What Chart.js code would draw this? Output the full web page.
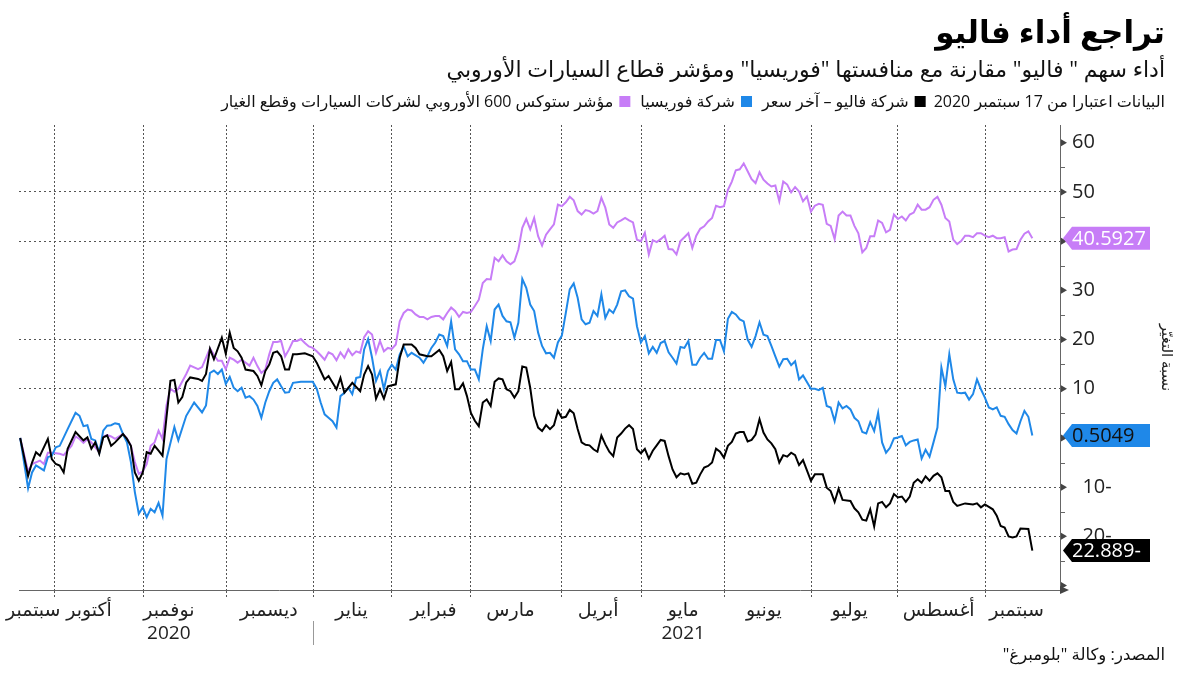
<!DOCTYPE html>
<html lang="ar">
<head>
<meta charset="utf-8">
<script src="https://cdn.jsdelivr.net/npm/chart.js@4.4.0/dist/chart.umd.min.js"></script>
<style>
  html, body { margin: 0; padding: 0; background: #fff; }
</style>
</head>
<body>
<canvas id="myChart" width="1200" height="675"></canvas>
<script>
// [trading day since 17 Sep 2020, % change]
var valeo = [[0,0],[2,-7.7],[3,-5],[4,-2.9],[5,-3.6],[7,-0.2],[8,-4.3],[9,-5.3],[10,-5.6],[11,-7],
  [12,-2.2],[14,1.2],[16,-0.5],[17,0.1],[18,-2.2],[19,-0.9],[20,-3.2],[21,0.1],[22,0.5],[23,-1.6],
  [24,-0.9],[26,0.8],[27,-0.2],[28,-1.6],[29,-7],[30,-8.7],[31,-7],[32,-2.9],[33,-3.2],[34,-1.6],
  [35,-2.6],[36,-3.6],[37,4.2],[38,11.6],[39,11.8],[40,7.2],[41,8.3],[42,11.3],[43,12.3],[45,12],
  [46,11.6],[47,13],[48,18.1],[49,16],[51,20.4],[52,17.1],[53,21.4],[54,18.3],[55,17.6],[56,16.3],
  [57,13.9],[59,13.6],[60,12.6],[61,10.7],[62,13.6],[63,14.9],[64,17.3],[65,17.6],[66,16.6],[67,13.9],
  [68,13.9],[69,17],[70,17],[72,17.2],[74,16.6],[75,15.3],[76,13.6],[77,11.9],[78,12.6],[80,9.9],
  [81,12.2],[82,9.2],[83,10.2],[84,11.2],[86,9.5],[87,12.9],[88,14.6],[89,12.9],[90,8],[91,9.9],
  [92,8],[93,10.5],[95,10.9],[96,16.3],[97,19],[99,19],[100,18.3],[101,17],[103,16.6],[104,16.6],
  [106,17.9],[107,16.6],[108,13.6],[109,15.4],[110,9.9],[111,9.9],[112,11.1],[113,8.5],[114,5.1],[115,3.5],
  [116,2.4],[117,7.2],[118,7.8],[119,6.5],[120,11.4],[121,12.1],[122,11.9],[123,9.9],[124,9.5],[125,8.2],
  [126,9.5],[127,14.5],[128,14.3],[129,10.2],[130,4.5],[131,2.1],[132,1.4],[133,2.6],[134,1.8],[135,2.6],
  [136,5.5],[137,4.1],[138,4.3],[139,5.7],[140,5],[141,1.8],[142,-0.9],[143,-1.4],[144,-1.5],[145,-2.3],
  [146,-2.8],[147,0.5],[148,-1.3],[149,-2.8],[150,-3.7],[151,0.1],[152,0.9],[153,1.9],[154,2.6],[155,1.8],
  [156,-2.3],[157,-3.1],[158,-2.2],[159,-4.2],[160,-2.6],[161,-1.5],[162,-0.4],[163,-0.6],[164,-3.7],[165,-6.4],
  [166,-8],[167,-7.2],[168,-7.4],[169,-7.2],[170,-9.3],[171,-9.1],[172,-7.4],[173,-6],[174,-5.7],[175,-5],
  [176,-2.2],[177,-2.8],[178,-4],[179,-1.6],[180,-0.8],[181,0.9],[182,1.2],[183,1.2],[184,-0.7],[185,-0.4],
  [186,0.7],[187,3.8],[188,1.1],[189,-0.3],[190,-1.1],[191,-2.3],[192,-5],[193,-3.5],[194,-3.8],[195,-3],
  [196,-3.5],[197,-5.5],[198,-4.5],[200,-8.7],[201,-7.4],[203,-7.4],[204,-10.1],[205,-10.8],[206,-13],[207,-10.3],
  [208,-12.6],[210,-12.8],[211,-14.3],[212,-15.1],[213,-16.6],[214,-16.8],[215,-14.5],[216,-18],[217,-13.3],[218,-13],
  [219,-14.1],[220,-13.3],[221,-11.4],[222,-12.1],[223,-11.9],[224,-13],[225,-11.9],[226,-9.1],[227,-8.4],[228,-9.1],
  [229,-7.8],[230,-8.7],[231,-7.7],[232,-7.2],[233,-8],[234,-10.8],[235,-10.8],[236,-13],[237,-13.8],
  [239,-13.3],[241,-13.5],[242,-13.3],[243,-14.1],[244,-13.5],[246,-14.5],[247,-15.8],[248,-17.9],[249,-18.2],[250,-20],
  [251,-20.2],[252,-20],[253,-18.4],[255,-18.5],[256,-22.889]];

var faurecia = [[0,0],[2,-10.2],[3,-7],[4,-5.6],[6,-6.6],[7,-3.9],[8,-3.6],[9,-1.9],[10,-1.6],[12,1.8],
  [14,5.1],[15,4.5],[16,2.4],[17,2.6],[18,-0.2],[19,-0.5],[20,-3],[21,1.5],[22,2.5],[23,2.6],
  [24,3],[25,2.8],[26,0.8],[27,-0.9],[28,-4.9],[29,-11],[30,-15.4],[31,-14.1],[32,-16.1],[33,-14.4],
  [34,-15.1],[35,-13.2],[36,-15.8],[37,-4.3],[39,2.2],[40,-0.5],[42,4.5],[44,7.2],[46,5.2],[47,6.6],
  [48,13.2],[49,13.7],[50,13],[51,13.9],[52,11],[53,12.4],[54,10.2],[55,9.5],[56,10.2],[57,8.2],
  [58,8.5],[59,7.8],[60,6.5],[61,4.1],[62,7.2],[63,9.5],[64,11.2],[65,11.9],[66,10.5],[67,9.2],
  [68,9.3],[69,11.2],[71,11.4],[74,11.4],[75,10],[76,7.2],[77,4.8],[78,4.1],[79,3.4],[80,2.1],
  [81,8.5],[82,9.2],[83,10.2],[84,8.9],[85,12.2],[86,12.4],[87,18],[88,20.1],[89,16.3],[90,11.6],
  [91,13.6],[92,9.9],[93,13.6],[94,14.9],[95,13.9],[96,17],[97,18.6],[98,16.6],[99,17.3],[101,16.3],
  [102,15.3],[103,16.6],[104,18.3],
  [105,19.4],[106,21],[107,20.7],[108,18.7],[109,23.7],[110,18],[111,17],[112,15.6],[113,15.6],[114,13.9],
  [115,13.9],[116,11.9],[117,18],[118,22.7],[119,19.7],[120,26.1],[121,27.1],[122,24.8],[123,23.7],[124,23.5],
  [125,20.4],[126,23.4],[127,32.3],[128,30.5],[129,27.1],[130,25.8],[131,21.4],[132,18.7],[133,17.2],[134,17.3],
  [135,16.3],[136,19.4],[137,20.8],[138,25.4],[139,30.2],[140,31.4],[141,28.5],[142,24.1],[143,23.1],[144,23.4],
  [145,25.8],[146,24.8],[147,29.2],[148,24.4],[149,26.1],[150,25.4],[151,27.1],[152,29.8],[153,30],[154,28.8],
  [155,28.3],[156,22.7],[157,19.4],[158,20.7],[159,17.2],[160,18.5],[161,17.3],[162,19.3],[163,19.7],[164,17.4],
  [165,16.3],[166,15.1],[167,18.5],[168,18.3],[169,19.7],[170,14.9],[171,14.9],[172,16.3],[173,17.3],[174,16.1],
  [175,16.1],[176,19.9],[177,19.9],[178,17.6],[179,24.2],[180,25.6],[181,25.1],[182,24.1],[183,23.7],[184,20],
  [185,18.5],[186,20.7],[187,23.5],[188,21],[189,20.7],[190,18.7],[191,16.6],[192,14.5],[193,16],[194,16.1],
  [195,14.8],[196,15.6],[197,11.9],[198,12.7],
  [200,10],[201,10],[202,9.7],[203,10.2],[204,6.5],[205,6.2],[206,3.4],[207,7.2],[208,6],[209,6.5],
  [210,5.8],[211,4.1],[212,3.4],[213,1.2],[214,0.9],[215,3.2],[216,1.4],[217,5.1],[218,-0.9],[219,-3],
  [220,-2],[221,-0.1],[222,0.1],[223,0.4],[224,-1.5],[225,-0.8],[226,-0.5],[227,-0.3],[228,-4.2],[229,-2.4],
  [230,-3.8],[231,-0.9],[232,2.1],[233,14.3],[234,10.5],[235,17],[236,11.9],[237,9.2],[238,9.1],[239,9.2],
  [240,7.8],[241,8.9],[242,11.9],[243,9.9],[244,8.2],[245,6.2],[246,5.8],[247,6.2],[248,4.5],[249,4.3],
  [250,2.8],[251,1.6],[252,0.9],[253,3.4],[254,5.5],[255,4.3],[256,0.5049]];

var stoxx = [[0,0],[2,-6.8],[3,-5.3],[5,-4.6],[6,-5.3],[7,-3],[8,-3],[10,-3.2],[11,-3.5],[13,-1.6],
  [14,0.3],[15,-0.2],[16,-1],[17,-0.2],[18,-0.9],[20,-2.9],[21,0.3],[22,0.6],[23,0.3],[24,-0.2],
  [26,0.8],[27,-0.1],[28,-1.6],[29,-4.9],[30,-7.3],[31,-6.8],[32,-5.3],[33,-1.6],[34,-0.9],[35,1.5],
  [36,-0.2],[37,6.6],[38,10],[39,9.4],[40,10],[42,13],[43,14.7],[45,14],[46,14.4],[48,18.2],
  [49,16.9],[50,15.7],[51,15.7],[52,14],
  [53,16.3],[54,15.9],[55,15.3],[56,15.9],[57,15.3],[58,14.7],[59,16.3],[60,14.6],[61,13.2],[62,13.9],
  [63,17],[64,19.5],[65,19.5],[66,19.7],[67,16.6],[68,18],[69,19.7],[70,19.7],[71,20.1],[72,19.3],
  [73,18.6],[74,18.3],[75,17.6],[76,16.8],[77,15.9],[78,17.4],[79,17],[80,15.8],[81,17.4],[82,16.3],
  [83,18],[84,16.8],[85,17.6],[86,17.3],[87,20.5],[88,21.7],[89,21],[90,17.3],[91,19.7],[92,17.6],
  [93,18.3],[94,18.1],[95,19],[96,23.7],[97,25.4],[98,26.1],[99,25.9],[100,25.1],[101,24.6],[102,24.6],
  [103,24.1],[104,24.6],[105,24.8],[106,24.8],[107,24.1],[108,25.4],[109,26.5],[110,25.8],[111,24.6],[112,25.6],
  [113,25.4],[114,25.6],[115,26.8],[116,28.1],[117,31.5],[118,32.3],[119,32.2],[120,36.6],[121,35.9],[122,37.1],
  [123,35.9],[124,35.3],[125,35.9],[126,38.3],[127,42.7],[128,44.5],[129,42.4],[130,44.7],[131,41],[132,39.1],
  [133,41.3],[134,42.4],[135,43.4],[136,47.4],[137,47.1],[138,47.9],[139,49],[140,48.3],[141,46.1],[142,45.4],
  [143,46.3],[144,46.1],[145,45.6],[146,46.1],[147,48.8],[148,46.8],[149,43.4],[150,42.7],[151,43.8],[152,44.2],
  [153,44.7],[154,44.2],[155,43.8],[156,40.3],[157,40],[158,41.7],[159,37.3],[160,40.2],[161,39.8],[162,40.4],
  [163,41.1],[164,38.4],[165,38.3],[166,37.3],[167,40],[168,40.8],[169,41.6],[170,38.6],[171,41.1],[172,42.5],
  [173,43],[174,44],[175,44.7],[176,47.2],[177,46.9],[178,47.1],[179,50.4],[180,52.1],[181,54.4],[182,54.6],
  [183,55.8],[184,54.2],[185,52.6],[186,51.8],[187,54],[188,52.5],[189,51.7],[190,51.1],[191,51.3],[192,48.1],
  [193,52.1],[194,51.5],[195,49.9],[196,51],[197,50.1],[198,48.1],[199,49.1],[200,46],[201,47.2],[202,47.6],
  [203,47.4],[204,43.5],[205,43.1],[206,40.4],[207,45.2],[208,46],[209,45.2],[210,45.2],[211,43.1],[212,41.6],
  [213,37.7],[214,38.6],[215,41],[216,41],[217,44.2],[218,43.7],[219,41.8],[220,42.3],[221,45.4],[222,44.5],
  [223,45],[224,44.2],[225,45.4],[226,45.8],[227,47.4],[228,46.4],[229,46.4],[230,46.9],[231,48.4],[232,49],
  [233,47.4],[234,44.7],[235,44],[236,40.3],[237,39.4],[238,40],[239,41.1],[240,41.1],[241,40.8],[242,41.6],
  [243,41.6],[244,41.1],[245,40.8],[246,41.1],[247,40.6],[248,40.6],[249,40.8],[250,37.9],[251,38.3],[252,38.4],
  [253,40.3],[254,41.5],[255,42],[256,40.5927]];

// month boundaries and label centres, in trading days
var monthStarts = [8.8, 31.1, 52.2, 74.1, 94, 113.9, 137, 157.1, 178.2, 200.1, 222, 244.1];
var monthLabelDays = [3.3, 17.4, 37.6, 62.9, 83.8, 104.5, 124, 146.2, 167.7, 188.1, 209.8, 232.3, 252];
var monthLabels = ['سبتمبر', 'أكتوبر', 'نوفمبر', 'ديسمبر', 'يناير', 'فبراير', 'مارس', 'أبريل', 'مايو', 'يونيو', 'يوليو', 'أغسطس', 'سبتمبر'];
var yearLabels = ['', '', '2020', '', '', '', '', '', '2021', '', '', '', ''];

var yTicks = [-30, -25, -20, -15, -10, -5, 0, 5, 10, 15, 20, 25, 30, 35, 40, 45, 50, 55, 60];
var yLabelTicks = [-20, -10, 0, 10, 20, 30, 40, 50, 60];
var yGridLines = [-20, -10, 10, 20, 40, 50];

var seriesNames = ['شركة فاليو – آخر سعر', 'شركة فوريسيا', 'مؤشر ستوكس 600 الأوروبي لشركات السيارات وقطع الغيار'];
var seriesColors = ['#000000', '#1f88e8', '#c77df7'];
var badgeTextColors = ['#ffffff', '#111111', '#ffffff'];

var FONT = '"Open Sans", "DejaVu Sans", sans-serif';
Chart.defaults.font.family = FONT;

function fmtNum(v) {
  return v < 0 ? Math.abs(v) + '-' : String(v);
}

function toPoints(arr) {
  return arr.map(function (p) { return { x: p[0], y: p[1] }; });
}

var decor = {
  id: 'decor',
  afterDraw: function (chart) {
    var ctx = chart.ctx;
    var xs = chart.scales.x, ys = chart.scales.y;
    var ax = chart.chartArea.right;

    ctx.save();
    // header
    ctx.direction = 'rtl';
    ctx.textAlign = 'right';
    ctx.textBaseline = 'middle';
    ctx.fillStyle = '#000';
    ctx.font = 'bold 31px ' + FONT;
    ctx.fillText('تراجع أداء فاليو', 1165, 34);
    ctx.font = '22px ' + FONT;
    ctx.fillStyle = '#111';
    ctx.fillText('أداء سهم " فاليو" مقارنة مع منافستها "فوريسيا" ومؤشر قطاع السيارات الأوروبي', 1165, 71);

    // legend row
    ctx.font = '16px ' + FONT;
    var lx = 1165, ly = 102;
    var note = 'البيانات اعتبارا من 17 سبتمبر 2020';
    ctx.fillText(note, lx, ly);
    lx -= ctx.measureText(note).width + 8;
    for (var i = 0; i < seriesNames.length; i++) {
      ctx.fillStyle = seriesColors[i];
      ctx.fillRect(lx - 11, ly - 6, 11, 11);
      lx -= 17;
      ctx.fillStyle = '#111';
      ctx.fillText(seriesNames[i], lx, ly);
      lx -= ctx.measureText(seriesNames[i]).width + 10;
    }

    // source
    ctx.font = '16.5px ' + FONT;
    ctx.fillText('المصدر: وكالة "بلومبرغ"', 1165, 655);
    ctx.direction = 'ltr';

    // y tick marks on the axis
    ctx.fillStyle = '#444';
    ctx.strokeStyle = '#666';
    ctx.lineWidth = 1;
    yTicks.forEach(function (v) {
      var py = ys.getPixelForValue(v);
      if (v % 10 === 0) {
        ctx.beginPath();
        ctx.moveTo(ax + 1, py - 3.5);
        ctx.lineTo(ax + 7, py);
        ctx.lineTo(ax + 1, py + 3.5);
        ctx.closePath();
        ctx.fill();
      } else {
        ctx.beginPath();
        ctx.moveTo(ax, Math.round(py) + 0.5);
        ctx.lineTo(ax + 5, Math.round(py) + 0.5);
        ctx.stroke();
      }
    });
    // arrow at the end of the x axis
    var by = chart.chartArea.bottom;
    ctx.beginPath();
    ctx.moveTo(ax, by - 4);
    ctx.lineTo(ax + 9, by);
    ctx.lineTo(ax, by + 4);
    ctx.closePath();
    ctx.fill();

    // year separator
    var sx = Math.round(xs.getPixelForValue(monthStarts[3])) + 0.5;
    ctx.strokeStyle = '#999';
    ctx.beginPath();
    ctx.moveTo(sx, by + 31);
    ctx.lineTo(sx, by + 55);
    ctx.stroke();

    // last-value badges
    ctx.font = '20px ' + FONT;
    ctx.textAlign = 'left';
    ctx.textBaseline = 'middle';
    chart.data.datasets.forEach(function (ds, k) {
      var last = ds.data[ds.data.length - 1].y;
      var py = ys.getPixelForValue(last);
      ctx.fillStyle = seriesColors[k];
      ctx.beginPath();
      ctx.moveTo(ax + 3, py);
      ctx.lineTo(ax + 12, py - 11.5);
      ctx.lineTo(ax + 90, py - 11.5);
      ctx.lineTo(ax + 90, py + 11.5);
      ctx.lineTo(ax + 12, py + 11.5);
      ctx.closePath();
      ctx.fill();
      ctx.fillStyle = badgeTextColors[k];
      ctx.fillText(fmtNum(last), ax + 12, py + 1);
    });
    ctx.restore();
  }
};

var ctx = document.getElementById('myChart').getContext('2d');
var myChart = new Chart(ctx, {
  type: 'line',
  data: {
    datasets: [{
      label: seriesNames[0],
      data: toPoints(valeo),
      borderColor: seriesColors[0],
      borderWidth: 2,
      pointRadius: 0,
      tension: 0
    }, {
      label: seriesNames[1],
      data: toPoints(faurecia),
      borderColor: seriesColors[1],
      borderWidth: 2,
      pointRadius: 0,
      tension: 0
    }, {
      label: seriesNames[2],
      data: toPoints(stoxx),
      borderColor: seriesColors[2],
      borderWidth: 2,
      pointRadius: 0,
      tension: 0
    }]
  },
  options: {
    responsive: false,
    animation: false,
    events: [],
    layout: { padding: { left: 19, top: 125, right: 25, bottom: 0 } },
    plugins: {
      legend: { display: false },
      tooltip: { enabled: false },
      title: { display: false }
    },
    scales: {
      x: {
        type: 'linear',
        min: -0.3,
        max: 263,
        afterBuildTicks: function (s) {
          s.ticks = monthStarts.concat(monthLabelDays).map(function (v) { return { value: v }; });
        },
        afterFit: function (s) { s.height = 85; },
        ticks: {
          autoSkip: false,
          maxRotation: 0,
          padding: 2,
          color: '#222',
          font: { size: 19 },
          callback: function (v) {
            var i = monthLabelDays.indexOf(v);
            if (i < 0) return '';
            return yearLabels[i] ? [monthLabels[i], yearLabels[i]] : monthLabels[i];
          }
        },
        grid: {
          color: function (c) { return c.tick && monthStarts.indexOf(c.tick.value) >= 0 ? '#555' : 'rgba(0,0,0,0)'; },
          tickColor: function (c) { return c.tick && monthStarts.indexOf(c.tick.value) >= 0 ? '#555' : 'rgba(0,0,0,0)'; },
          tickLength: 7,
          tickBorderDash: [2, 2]
        },
        border: { display: true, color: '#666', width: 1, dash: [2, 2] }
      },
      y: {
        position: 'right',
        min: -30.9,
        max: 63.6,
        afterBuildTicks: function (s) {
          s.ticks = yTicks.map(function (v) { return { value: v }; });
        },
        afterFit: function (s) { s.width = 115; },
        ticks: {
          padding: 12,
          color: '#222',
          font: { size: 20 },
          callback: function (v) {
            if (yLabelTicks.indexOf(v) < 0) return '';
            return v < 0 ? '  ' + fmtNum(v) : fmtNum(v);
          }
        },
        grid: {
          drawTicks: false,
          color: function (c) { return c.tick && yGridLines.indexOf(c.tick.value) >= 0 ? '#555' : 'rgba(0,0,0,0)'; }
        },
        border: { display: true, color: '#666', width: 1, dash: [2, 3] },
        title: {
          display: true,
          text: 'نسبة التغيّر',
          color: '#222',
          font: { size: 15 },
          padding: 0
        }
      }
    }
  },
  plugins: [decor]
});
</script>
</body>
</html>
